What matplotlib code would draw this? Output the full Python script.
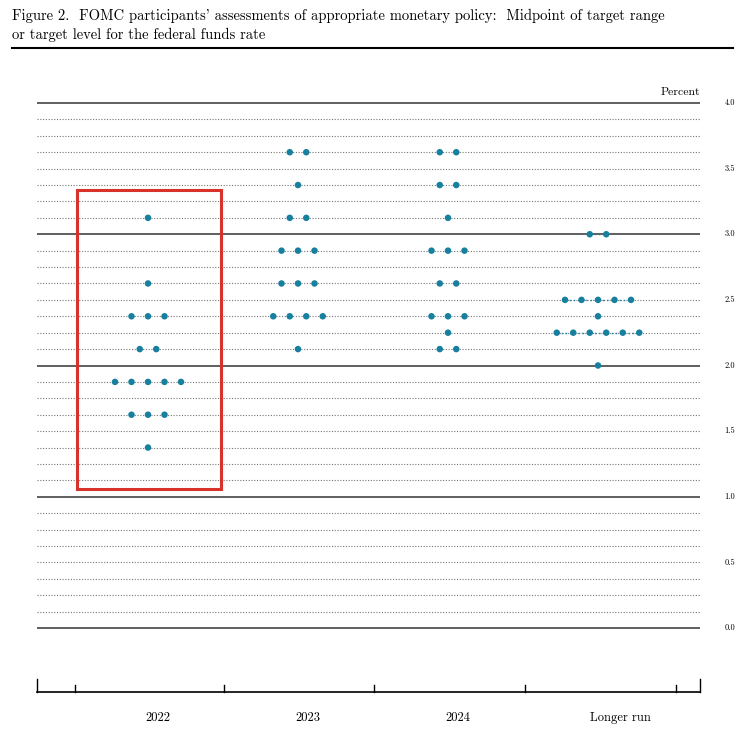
import matplotlib
matplotlib.use("Agg")
import numpy as np
import matplotlib.pyplot as plt
from matplotlib.patches import Rectangle

# data: (midpoint, count) per column
categories = ["2022", "2023", "2024", "Longer run"]
levels_2022 = [3.125, 2.625, 2.375, 2.125, 1.875, 1.625, 1.375]
counts_2022 = [1, 1, 3, 2, 5, 3, 1]
levels_2023 = [3.625, 3.375, 3.125, 2.875, 2.625, 2.375, 2.125]
counts_2023 = [2, 1, 2, 3, 3, 4, 1]
levels_2024 = [3.625, 3.375, 3.125, 2.875, 2.625, 2.375, 2.25, 2.125]
counts_2024 = [2, 2, 1, 3, 2, 3, 1, 2]
levels_lr = [3.0, 2.5, 2.375, 2.25, 2.0]
counts_lr = [2, 5, 1, 6, 1]
ytick_vals = [0.0, 0.5, 1.0, 1.5, 2.0, 2.5, 3.0, 3.5, 4.0]

W, H = 748, 736
fig = plt.figure(figsize=(W / 100, H / 100), dpi=100)
plt.rcParams["font.family"] = "cmr10"
plt.rcParams["axes.formatter.use_mathtext"] = True

# axes placed in pixel terms
x0, x1 = 37, 700
ytop, ybot = 96, 692
ax = fig.add_axes([x0 / W, 1 - ybot / H, (x1 - x0) / W, (ybot - ytop) / H])
ax.set_xlim((x0 - 148) / 150, (x1 - 148) / 150)
ax.set_ylim((628 - ybot) / 131.25, (628 - ytop) / 131.25)
for s in ax.spines.values():
    s.set_visible(False)
ax.set_xticks([]); ax.set_yticks([])

xl, xr = ax.get_xlim()
for v in np.arange(0, 4.001, 0.125):
    if abs(v - round(v)) < 1e-9:
        ax.plot([xl, xr], [v, v], color="#444444", lw=1.2, zorder=1)
    else:
        ax.plot([xl, xr], [v, v], color="#777777", lw=0.8, ls=(0, (1, 1.5)), zorder=1)

color = "#17809f"
step = 0.11
cols = [(levels_2022, counts_2022), (levels_2023, counts_2023),
        (levels_2024, counts_2024), (levels_lr, counts_lr)]
for i, (lv, ct) in enumerate(cols):
    for y, n in zip(lv, ct):
        xs = i + (np.arange(n) - (n - 1) / 2) * step
        if i == 3 and n > 1:
            ax.plot([xs[0], xs[-1]], [y, y], color=color, lw=1, ls=(0, (1, 2)), zorder=2)
        ax.scatter(xs, [y] * n, s=22, color=color, zorder=3, edgecolors="none")

# red box around 2022
ax.add_patch(Rectangle((-0.473, 1.059), 0.96, 2.278, fill=False,
                       edgecolor="#d9322b", lw=2.2, zorder=4))

# bottom axis
yb = ax.get_ylim()[0]
ax.plot([xl, xr], [yb, yb], color="black", lw=1.2, clip_on=False)
for t in [xl, -0.487, 0.507, 1.507, 2.513, 3.52, xr]:
    h = 0.1 if t in (xl, xr) else 0.05
    ax.plot([t, t], [yb, yb + h], color="black", lw=1, clip_on=False)
for lab, xp in zip(categories, [0.067, 1.067, 2.067, 3.147]):
    ax.text(xp, yb - 0.2, lab, ha="center", va="center", fontsize=9)

for v in ytick_vals:
    ax.text(xr + 0.2, v, f"{v:.1f}", ha="center", va="center", fontsize=6)
ax.text(xr, 4.08, "Percent", ha="right", va="center", fontsize=8.5)

fig.text(12 / W, 1 - 16 / H, "Figure 2.  FOMC participants' assessments of appropriate monetary policy:  Midpoint of target range",
         ha="left", va="center", fontsize=10.5)
fig.text(12 / W, 1 - 35 / H, "or target level for the federal funds rate",
         ha="left", va="center", fontsize=10.5)
fig.add_artist(plt.Line2D([12 / W, 733 / W], [1 - 48 / H, 1 - 48 / H],
                          color="black", lw=1.5, transform=fig.transFigure))

fig.savefig("out.png", dpi=100)
